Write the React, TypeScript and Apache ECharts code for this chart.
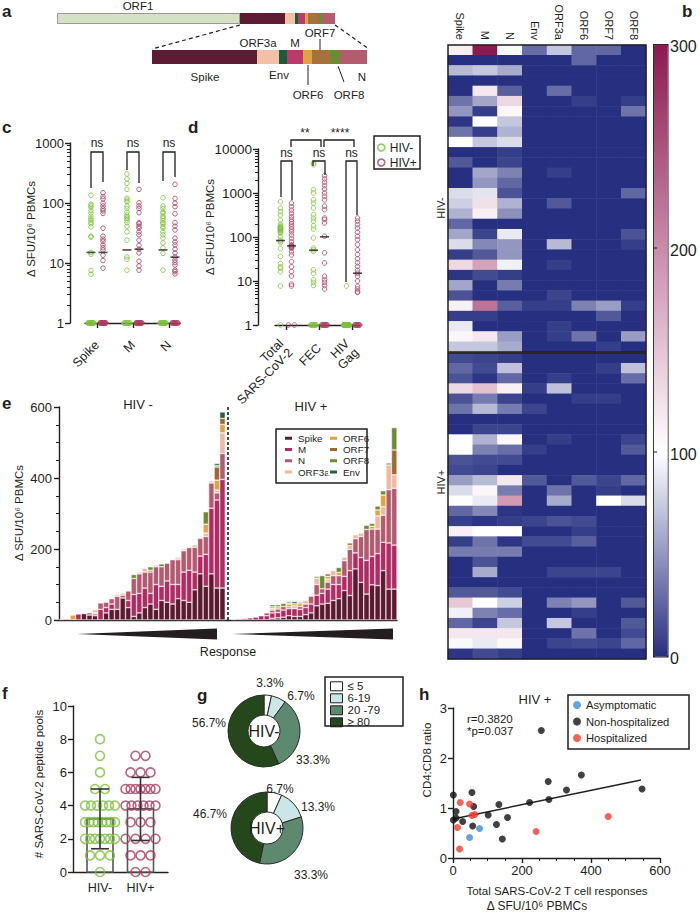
import React, { useEffect, useRef } from 'react';
import * as echarts from 'echarts';

const FONT = '"Liberation Sans", Arial, Helvetica, sans-serif';
const INK = '#231f20';
const GREEN = '#7cc13a';
const MAROON = '#a93b60';
const PAGE_W = 700;
const PAGE_H = 913;

// ---------- a: genome ----------
const genomeNames = ['ORF1', 'Spike', 'ORF3a', 'Env', 'M', 'ORF6', 'ORF7', 'ORF8', 'N'];
const genomeLengths = [183, 45, 10, 3, 7, 3, 10, 4, 13];
const detailNames = ['Spike', 'ORF3a', 'Env', 'M', 'ORF6', 'ORF7', 'ORF8', 'N'];
const detailLengths = [105, 22, 8, 16, 9, 18, 10, 27];
const geneColors: Record<string, string> = {
  ORF1: '#d6e1c4', Spike: '#5e1b34', ORF3a: '#f2c1a5', Env: '#1b5d3b', M: '#b93a6b',
  ORF6: '#e0a343', ORF7: '#a6713a', ORF8: '#6e8a34', N: '#b45b6e',
};

// ---------- b: heatmap ----------
const hmCols = ['Spike', 'M', 'N', 'Env', 'ORF3a', 'ORF6', 'ORF7', 'ORF8'];
const hmNeg = [
  [113, 300, 97, 30, 73, 27, 27, 0], [0, 0, 0, 0, 0, 27, 0, 0], [67, 73, 60, 0, 0, 0, 0, 0],
  [0, 0, 0, 0, 0, 0, 0, 0], [0, 120, 23, 0, 30, 0, 0, 0], [33, 57, 133, 0, 0, 7, 0, 7],
  [50, 7, 107, 0, 0, 0, 0, 33], [3, 100, 73, 0, 0, 0, 0, 0], [33, 7, 63, 0, 0, 0, 0, 0],
  [100, 73, 83, 0, 0, 0, 0, 0], [0, 0, 7, 0, 0, 0, 0, 0], [20, 0, 10, 0, 0, 0, 0, 0],
  [0, 57, 40, 0, 7, 0, 0, 0], [0, 50, 27, 0, 0, 0, 0, 0], [83, 87, 17, 0, 0, 0, 0, 27],
  [77, 127, 63, 0, 20, 0, 0, 0], [63, 113, 47, 0, 0, 0, 0, 0], [27, 0, 0, 0, 0, 0, 0, 0],
  [57, 10, 90, 0, 0, 0, 0, 17], [83, 43, 50, 0, 67, 0, 0, 7], [7, 20, 50, 0, 0, 0, 0, 0],
  [133, 180, 93, 0, 7, 0, 0, 0], [3, 13, 7, 0, 0, 0, 0, 0], [57, 0, 37, 0, 0, 0, 0, 0],
  [17, 0, 0, 0, 10, 0, 0, 0], [113, 220, 23, 7, 7, 40, 53, 7], [7, 7, 0, 0, 0, 0, 20, 0],
  [90, 0, 0, 0, 7, 0, 0, 0], [107, 120, 53, 0, 7, 33, 0, 53], [73, 73, 60, 0, 0, 0, 7, 0],
];
const hmPos = [
  [13, 10, 7, 0, 0, 0, 0, 0], [27, 13, 70, 0, 0, 0, 7, 70], [17, 3, 27, 0, 7, 0, 0, 30],
  [133, 153, 113, 7, 70, 0, 0, 0], [17, 37, 10, 0, 0, 7, 7, 0], [33, 67, 37, 10, 0, 0, 0, 0],
  [0, 0, 0, 0, 0, 0, 0, 0], [0, 10, 10, 0, 0, 0, 0, 0], [100, 63, 107, 0, 7, 0, 0, 10],
  [100, 40, 30, 7, 0, 0, 0, 20], [17, 13, 13, 0, 0, 0, 0, 0], [13, 10, 0, 0, 0, 0, 0, 0],
  [53, 67, 120, 20, 0, 20, 10, 27], [83, 107, 37, 0, 33, 0, 7, 0], [99, 90, 187, 0, 60, 0, 100, 83],
  [27, 43, 3, 0, 0, 0, 0, 0], [7, 3, 7, 10, 17, 13, 0, 0], [113, 100, 100, 0, 0, 7, 0, 0],
  [7, 33, 3, 13, 13, 23, 0, 0], [37, 37, 37, 0, 0, 0, 0, 0], [0, 17, 0, 0, 0, 0, 0, 0],
  [0, 60, 0, 0, 10, 10, 10, 0], [0, 0, 0, 0, 0, 0, 0, 0], [20, 20, 13, 0, 0, 0, 0, 0],
  [147, 100, 77, 0, 40, 50, 0, 20], [93, 40, 30, 0, 0, 7, 0, 0], [27, 10, 73, 0, 73, 0, 0, 20],
  [120, 120, 120, 0, 0, 33, 0, 13], [97, 90, 107, 0, 10, 13, 10, 27], [3, 13, 7, 0, 0, 0, 0, 0],
];
const colorbarTicks = [0, 100, 200, 300];

// ---------- c ----------
const cCats = ['Spike', 'M', 'N'];
const ones = (n: number) => Array(n).fill(1);
const cSpikeNeg = [135, 95, 90, 85, 75, 68, 60, 55, 52, 48, 45, 40, 28, 27, 15, 14, 7.5, 6.5, ...ones(12)];
const cSpikePos = [148, 128, 117, 99, 89, 80, 74, 67, 38, 28, 25, 23, 20, 18, 16.5, 13.5, 11, 8.2, ...ones(12)];
const cMNeg = [305, 251, 213, 169, 120, 112, 105, 89, 81, 70, 63, 59, 56, 52, 47, 41, 33, 24, 12.6, 11.5, 7.6, ...ones(9)];
const cMPos = [169, 101, 89, 81, 69, 47, 45, 41, 38, 33, 29.5, 24, 19.6, 17, 14.7, 10.7, 8.9, 7.6, ...ones(12)];
const cNNeg = [122, 89, 81, 71, 67, 60, 56, 51, 47, 45, 40.6, 38, 33, 29.5, 26, 21.5, 18, 14.5, 7.6, ...ones(11)];
const cNPos = [205, 119, 99, 87, 66, 47, 41, 35.5, 26, 22.4, 20, 17, 14.7, 12.6, 11.2, 10.2, 9.3, 7.6, 7.2, 6.6, ...ones(10)];
const cMedNeg = [15, 16.5, 16.5];
const cMedPos = [15, 17, 12.5];

// ---------- d ----------
const dCats = ['Total\nSARS-CoV-2', 'FEC', 'HIV\nGag'];
const dTotalNeg = [633, 447, 376, 316, 244, 197, 178, 170, 165, 160, 157, 155, 150, 144, 140, 132, 130, 121, 101, 85, 80, 75, 55, 36, 25, 21, 19.4, 16.3, 7.7, 1];
const dTotalPos = [587, 489, 409, 345, 288, 251, 223, 197, 171, 150, 132, 111, 93, 78, 66, 64, 62, 60, 58, 55, 46, 39, 27.5, 21, 16.3, 13, 8.5, 7.7, 1, 1];
const dFecNeg = [4800, 4400, 1190, 1000, 700, 590, 457, 322, 270, 230, 180, 152, 95, 56, 51, 47, 18, 15, 10.7, 9.3, 7.9, ...ones(9)];
const dFecPos = [2480, 2090, 1750, 1470, 1230, 1000, 840, 700, 500, 420, 270, 250, 209, 104, 43.6, 25.7, 12.8, 10.7, 9.3, 7.9, 6.6, ...ones(9)];
const dGagNeg = [7.7, ...ones(29)];
const dGagPos = [270, 230, 191, 160, 128, 104, 87, 67, 51, 40, 32, 26, 21.5, 17.5, 15, 12.8, 10, 7.6, 6.6, 5.7, 5.5, ...ones(9)];
const dMedNeg = [83, 50, 1];
const dMedPos = [63, 101, 15];

// ---------- e ----------
const eComponents = ['Spike', 'M', 'N', 'ORF3a', 'ORF6', 'ORF7', 'ORF8', 'Env'];
const eNeg = [
  [0, 2, 0, 0, 0, 0, 0, 0], [0, 3, 0, 0, 0, 0, 0, 0], [0, 0, 0, 0, 14, 0, 0, 0], [0, 17, 0, 0, 0, 0, 0, 0],
  [18, 0, 0, 0, 0, 0, 0, 0], [14, 6, 0, 0, 0, 0, 0, 0], [12, 5, 0, 5, 6, 0, 0, 0], [0, 30, 18, 0, 0, 0, 0, 0],
  [20, 15, 15, 0, 0, 0, 0, 0], [30, 15, 15, 0, 0, 0, 0, 0], [30, 0, 37, 5, 0, 0, 0, 0], [62, 0, 8, 6, 0, 0, 0, 0],
  [35, 20, 27, 0, 0, 0, 0, 0], [10, 62, 45, 0, 0, 0, 11, 0], [20, 55, 55, 5, 0, 0, 0, 0], [35, 55, 45, 10, 0, 0, 0, 0],
  [45, 30, 60, 0, 0, 5, 10, 0], [30, 70, 50, 5, 0, 0, 0, 0], [55, 40, 55, 0, 0, 0, 8, 0], [50, 60, 50, 0, 0, 0, 0, 0],
  [45, 55, 70, 0, 0, 0, 0, 0], [60, 40, 70, 0, 0, 3, 3, 0], [55, 80, 60, 5, 0, 0, 0, 0], [50, 90, 64, 0, 0, 0, 0, 0],
  [85, 50, 70, 7, 0, 0, 0, 0], [130, 50, 50, 0, 0, 0, 0, 0], [95, 90, 50, 10, 25, 0, 35, 0], [130, 185, 71, 6, 0, 0, 0, 0],
  [90, 248, 20, 8, 28, 37, 4, 6], [90, 306, 73, 58, 24, 17, 0, 18],
];
const ePos = [
  [0, 2, 0, 0, 0, 0, 0, 0], [0, 3, 0, 0, 0, 0, 0, 0], [0, 4, 0, 0, 0, 0, 0, 0], [0, 6, 0, 0, 0, 0, 0, 0],
  [0, 8, 0, 0, 0, 0, 0, 0], [0, 12, 0, 0, 0, 0, 0, 0], [0, 12, 8, 0, 0, 0, 0, 0], [5, 15, 8, 5, 5, 0, 0, 5],
  [6, 15, 10, 0, 6, 0, 6, 0], [8, 20, 10, 0, 0, 0, 9, 0], [12, 20, 5, 0, 8, 3, 0, 4], [10, 22, 0, 8, 6, 0, 0, 6],
  [10, 20, 8, 0, 8, 4, 0, 0], [15, 20, 10, 10, 0, 0, 0, 0], [20, 25, 22, 0, 0, 0, 0, 0], [40, 30, 30, 18, 0, 0, 5, 0],
  [45, 30, 13, 0, 0, 0, 37, 0], [47, 40, 20, 8, 8, 7, 0, 0], [55, 45, 25, 14, 0, 0, 0, 0], [60, 40, 25, 0, 9, 0, 14, 0],
  [83, 40, 44, 10, 0, 0, 0, 0], [69, 70, 60, 11, 0, 7, 0, 0], [144, 45, 40, 11, 0, 0, 0, 0], [106, 70, 59, 10, 0, 0, 0, 0],
  [73, 95, 87, 0, 0, 0, 12, 0], [99, 80, 77, 0, 8, 0, 8, 0], [97, 90, 69, 37, 17, 0, 11, 0], [139, 80, 76, 24, 33, 0, 12, 0],
  [87, 130, 150, 70, 0, 0, 0, 5], [87, 124, 160, 38, 0, 70, 63, 0],
];

// ---------- f ----------
const fCats = ['HIV-', 'HIV+'];
const fNegCounts = [1, 3, 7, 8, 6, 2, 1, 1, 1]; // number of donors responding to 0..8 pools
const fPosCounts = [2, 3, 4, 3, 6, 7, 3, 2]; // 0..7 pools
const fMean = [3.2, 3.8];
const fSD = [1.8, 1.9];

// ---------- g ----------
const gBins = ['≤ 5', '6-19', '20 -79', '≥ 80'];
const gColors = ['#ffffff', '#c9e7e5', '#5d8a6f', '#24481c'];
const gNeg = [1, 2, 10, 17];
const gPos = [2, 4, 10, 14];

// ---------- h ----------
const hAsym = [[48, 0.41], [77, 0.59]];
const hNonHosp = [
  [1, 1.26], [9, 0.93], [1, 0.76], [9, 0.8], [28, 0.73], [55, 1.31], [60, 1.03], [57, 0.64], [102, 0.86], [126, 0.67],
  [133, 1.07], [143, 0.38], [158, 0.81], [222, 1.11], [256, 2.55], [276, 1.53], [278, 1.17], [329, 1.36], [372, 1.66], [548, 1.38],
];
const hHosp = [[21, 1.11], [48, 1.08], [55, 0.85], [63, 0.87], [13, 0.61], [19, 0.18], [241, 0.53], [450, 0.83]];
const hFit = [[0, 0.78], [545, 1.56]];
const hStats = ['r=0.3820', '*p=0.037'];

// ---------- helpers ----------
const txt = (x: number, y: number, text: string, o: any = {}) => ({
  type: 'text', x, y, rotation: o.rot || 0, z: 50, silent: true,
  style: {
    text, fill: o.fill || INK, fontSize: o.fs || 12, fontFamily: FONT, fontWeight: o.fw || 'normal',
    align: o.align || 'center', verticalAlign: o.va || 'middle',
  },
});
const ln = (x1: number, y1: number, x2: number, y2: number, w = 1.2, dash?: number[]) => ({
  type: 'line', z: 50, silent: true, shape: { x1, y1, x2, y2 }, style: { stroke: INK, lineWidth: w, lineDash: dash },
});
const pl = (points: number[][], w = 1.3) => ({
  type: 'polyline', z: 50, silent: true, shape: { points }, style: { stroke: INK, fill: null, lineWidth: w },
});
const box = (x: number, y: number, w: number, h: number) => ({
  type: 'rect', z: 40, silent: true, shape: { x, y, width: w, height: h }, style: { stroke: INK, fill: null, lineWidth: 1.5 },
});
const letter = (x: number, y: number, t: string) => txt(x, y, t, { fs: 17, fw: 'bold', align: 'left' });
const SFU = 'Δ SFU/10⁶ PBMCs';
const axisLineStyle = { color: INK, width: 1.4 };
const lbl = (fs = 13, extra: any = {}) => ({ fontSize: fs, color: INK, fontFamily: FONT, ...extra });

const logMinor = (decades: number) => {
  const r: number[] = [];
  for (let d = 0; d < decades; d++) for (let m = 2; m <= 9; m++) r.push(d + Math.log10(m));
  return r;
};

// spread tied points at the floor value (1) into a small blob
const groupPts = (values: number[], x: number, spread: number) => {
  const n1 = values.filter((v) => v <= 1).length;
  let k = 0;
  return values.map((v) => {
    if (v <= 1 && n1 > 1) {
      const o = (k++ / (n1 - 1) - 0.5) * spread;
      return [x + o, v];
    }
    return [x, v];
  });
};

const hollow = (name: string, color: string, data: number[][], size = 4.6, bw = 1) => ({
  type: 'scatter', name, data, symbol: 'circle', symbolSize: size, silent: true,
  itemStyle: { color: 'rgba(255,255,255,0)', borderColor: color, borderWidth: bw },
  emphasis: { disabled: true }, z: 3,
});

const logAxes = (decades: number, offset: number, fs: number) => [
  { type: 'log', min: 1, max: Math.pow(10, decades), show: false, position: 'left' },
  {
    type: 'value', min: 0, max: decades, interval: 1, offset, position: 'left',
    axisLine: { show: true, lineStyle: axisLineStyle },
    axisTick: { show: true, length: 5, lineStyle: axisLineStyle },
    axisLabel: { ...lbl(fs), margin: 6, formatter: (v: number) => String(Math.round(Math.pow(10, v))) },
    splitLine: { show: false },
  },
  {
    type: 'value', min: 0, max: decades, offset, position: 'left',
    axisLine: { show: false }, axisLabel: { show: false }, splitLine: { show: false },
    axisTick: { show: true, customValues: logMinor(decades), length: 3, lineStyle: { color: INK, width: 1 } },
  },
];

// ---------- options ----------
const optA = {
  animation: false,
  grid: [
    { left: 57, top: 13, width: 278, height: 11 },
    { left: 152, top: 50, width: 215, height: 14 },
  ],
  xAxis: [
    { type: 'value', gridIndex: 0, min: 0, max: genomeLengths.reduce((a, b) => a + b, 0), show: false },
    { type: 'value', gridIndex: 1, min: 0, max: detailLengths.reduce((a, b) => a + b, 0), show: false },
  ],
  yAxis: [
    { type: 'category', gridIndex: 0, data: ['genome'], show: false },
    { type: 'category', gridIndex: 1, data: ['detail'], show: false },
  ],
  series: [
    ...genomeNames.map((n, i) => ({
      type: 'bar', name: 'g' + n, stack: 'genome', xAxisIndex: 0, yAxisIndex: 0, barWidth: '100%', silent: true,
      data: [genomeLengths[i]],
      itemStyle: { color: geneColors[n], borderColor: i === 0 ? '#9a9a9a' : geneColors[n], borderWidth: i === 0 ? 1 : 0 },
    })),
    ...detailNames.map((n, i) => ({
      type: 'bar', name: 'd' + n, stack: 'detail', xAxisIndex: 1, yAxisIndex: 1, barWidth: '100%', silent: true,
      data: [detailLengths[i]], itemStyle: { color: geneColors[n] },
    })),
  ],
  graphic: [
    letter(2, 11, 'a'),
    txt(138, 6, 'ORF1', { fs: 11.5 }),
    ln(240, 25, 152, 49, 1.2, [4, 3]),
    ln(335, 25, 369, 49, 1.2, [4, 3]),
    txt(258, 43, 'ORF3a', { fs: 11.5 }), txt(295, 43, 'M', { fs: 11.5 }), txt(320, 33, 'ORF7', { fs: 11.5 }), ln(320, 39, 320, 50, 1),
    txt(205, 77, 'Spike', { fs: 11.5 }), txt(279, 75, 'Env', { fs: 11.5 }), txt(308, 95, 'ORF6', { fs: 11.5 }), ln(308, 65, 308, 85, 1),
    txt(349, 95, 'ORF8', { fs: 11.5 }), ln(338, 66, 344, 82, 1), txt(362, 77, 'N', { fs: 11.5 }),
  ],
};

const heatCells = (rows: number[][]) => rows.flatMap((r, ri) => r.map((v, ci) => [ci, ri, v]));
const rowIdx = Array.from({ length: 30 }, (_, i) => String(i));
const cbY = (v: number) => 656 - (v / 300) * 612;
const optB = {
  animation: false,
  grid: [
    { left: 448, top: 45, width: 198, height: 307 },
    { left: 448, top: 353, width: 198, height: 306 },
  ],
  xAxis: [
    {
      type: 'category', gridIndex: 0, data: hmCols, position: 'top',
      axisLine: { show: false }, axisTick: { show: false }, axisLabel: { ...lbl(11), rotate: 90, margin: 5 },
    },
    { type: 'category', gridIndex: 1, data: hmCols, show: false },
  ],
  yAxis: [
    { type: 'category', gridIndex: 0, data: rowIdx, inverse: true, show: false },
    { type: 'category', gridIndex: 1, data: rowIdx, inverse: true, show: false },
  ],
  visualMap: {
    type: 'continuous', min: 0, max: 300, seriesIndex: [0, 1], calculable: false, left: 653, top: 44,
    itemWidth: 14, itemHeight: 612, padding: 0, borderColor: INK, borderWidth: 1.5,
    inRange: { color: ['#262f80', '#ffffff', '#c98ca9', '#8c1a50'] },
  },
  series: [
    { type: 'heatmap', xAxisIndex: 0, yAxisIndex: 0, data: heatCells(hmNeg), silent: true, emphasis: { disabled: true } },
    { type: 'heatmap', xAxisIndex: 1, yAxisIndex: 1, data: heatCells(hmPos), silent: true, emphasis: { disabled: true } },
  ],
  graphic: [
    letter(682, 11, 'b'),
    box(448, 45, 198, 307), box(448, 353, 198, 306),
    txt(441, 208, 'HIV-', { rot: Math.PI / 2, fs: 11 }),
    txt(441, 482, 'HIV+', { rot: Math.PI / 2, fs: 11 }),
    ...colorbarTicks.map((v) => txt(670, cbY(v) + 2, String(v), { fs: 16, align: 'left' })),
    ...colorbarTicks.filter((v) => v > 0 && v < 300).map((v) => ln(653, cbY(v), 657, cbY(v), 1)),
  ],
};

const OFF = 0.167;
const optC = {
  animation: false,
  grid: { left: 85, top: 143, width: 95, height: 180 },
  xAxis: {
    type: 'value', min: -0.333, max: 2.306, offset: 15, splitLine: { show: false },
    axisLine: { lineStyle: axisLineStyle },
    axisTick: { customValues: [0, 1, 2], length: 5, lineStyle: axisLineStyle },
    axisLabel: { customValues: [0, 1, 2], formatter: (v: number) => cCats[Math.round(v)], rotate: 45, margin: 5, ...lbl(12.5) },
  },
  yAxis: logAxes(3, 15, 13),
  series: [
    hollow('HIV-', GREEN, [
      ...groupPts(cSpikeNeg, 0 - OFF, 0.17), ...groupPts(cMNeg, 1 - OFF, 0.17), ...groupPts(cNNeg, 2 - OFF, 0.17),
    ]),
    hollow('HIV+', MAROON, [
      ...groupPts(cSpikePos, 0 + OFF, 0.17), ...groupPts(cMPos, 1 + OFF, 0.17), ...groupPts(cNPos, 2 + OFF, 0.17),
    ]),
    {
      type: 'scatter', symbol: 'rect', symbolSize: [9, 1.6], silent: true, z: 4, itemStyle: { color: INK },
      data: [...cMedNeg.map((m, i) => [i - OFF, m]), ...cMedPos.map((m, i) => [i + OFF, m])],
    },
  ],
  graphic: [
    letter(2, 127, 'c'),
    txt(31, 229, SFU, { rot: Math.PI / 2, fs: 11.5 }),
    ...[[91, 103, 188, 182], [127, 139, 170, 183], [163, 175, 181, 177]].flatMap(([a, b, la, lb]) => [
      pl([[a, la], [a, 152], [b, 152], [b, lb]]),
      txt((a + b) / 2, 143, 'ns'),
    ]),
  ],
};

const OFFD = 0.167;
const optD = {
  animation: false,
  grid: { left: 275, top: 149, width: 85, height: 176 },
  xAxis: {
    type: 'value', min: -0.333, max: 2.242, offset: 16, splitLine: { show: false },
    axisLine: { lineStyle: axisLineStyle },
    axisTick: { customValues: [0, 1, 2], length: 5, lineStyle: axisLineStyle },
    axisLabel: { customValues: [0, 1, 2], formatter: (v: number) => dCats[Math.round(v)], rotate: 45, margin: 5, ...lbl(12.5), lineHeight: 13 },
  },
  yAxis: logAxes(4, 17, 13.5),
  legend: {
    left: 377, top: 141.5, padding: 0, orient: 'vertical', itemWidth: 7, itemHeight: 7, itemGap: 3, selectedMode: false,
    textStyle: { ...lbl(12), lineHeight: 11 },
    data: [
      { name: 'HIV-', icon: 'circle', itemStyle: { color: '#fff', borderColor: GREEN, borderWidth: 1.6 } },
      { name: 'HIV+', icon: 'circle', itemStyle: { color: '#fff', borderColor: MAROON, borderWidth: 1.6 } },
    ],
  },
  series: [
    hollow('HIV-', GREEN, [
      ...groupPts(dTotalNeg, 0 - OFFD, 0.18), ...groupPts(dFecNeg, 1 - OFFD, 0.18), ...groupPts(dGagNeg, 2 - OFFD, 0.18),
    ]),
    hollow('HIV+', MAROON, [
      ...groupPts(dTotalPos, 0 + OFFD, 0.18), ...groupPts(dFecPos, 1 + OFFD, 0.18), ...groupPts(dGagPos, 2 + OFFD, 0.18),
    ]),
    {
      type: 'scatter', symbol: 'rect', symbolSize: [9, 1.6], silent: true, z: 4, itemStyle: { color: INK },
      data: [...dMedNeg.map((m, i) => [i - OFFD, m]).filter((p) => p[1] > 1), ...dMedPos.map((m, i) => [i + OFFD, m])],
    },
  ],
  graphic: [
    letter(188, 127, 'd'),
    txt(210, 227, SFU, { rot: Math.PI / 2, fs: 11.5 }),
    box(374, 136, 46, 33),
    pl([[281, 197], [281, 161], [292, 161], [292, 200]]), txt(286.5, 153, 'ns'),
    pl([[313, 166], [313, 161], [325, 161], [325, 175]]), txt(319, 153, 'ns'),
    pl([[346, 282], [346, 161], [357, 161], [357, 215]]), txt(351.5, 153, 'ns'),
    pl([[291, 147], [291, 140], [321, 140], [321, 147]]), txt(305, 133, '**'),
    pl([[324, 147], [324, 140], [354, 140], [354, 147]]), txt(340, 133, '****'),
  ],
};

const eCats = Array.from({ length: 61 }, (_, i) => String(i));
const eColors = ['#5c1a30', '#b22a62', '#b35a70', '#f1b89e', '#e3a33a', '#a2672e', '#6f8b32', '#1d6642'];
const eLegend = (left: number, names: string[]) => ({
  left, top: 432.5, padding: 0, orient: 'vertical', icon: 'rect', itemWidth: 9, itemHeight: 5, itemGap: 0,
  selectedMode: false, textStyle: { ...lbl(9.8), lineHeight: 11.3 }, data: names,
});
const optE = {
  animation: false,
  grid: { left: 59, top: 407, width: 338, height: 213 },
  xAxis: {
    type: 'category', data: eCats, axisLine: { lineStyle: axisLineStyle }, axisTick: { show: false }, axisLabel: { show: false },
  },
  yAxis: {
    type: 'value', min: 0, max: 600, interval: 200, splitLine: { show: false },
    axisLine: { show: true, lineStyle: axisLineStyle }, axisTick: { show: true, length: 5, lineStyle: axisLineStyle },
    minorTick: { show: true, splitNumber: 4, length: 3, lineStyle: { color: INK, width: 1 } },
    axisLabel: { ...lbl(13), margin: 7 },
  },
  legend: [eLegend(283, eComponents.slice(0, 4)), eLegend(328, eComponents.slice(4))],
  series: eComponents.map((name, j) => ({
    type: 'bar', name, stack: 'resp', barCategoryGap: '0%', silent: true,
    itemStyle: { color: eColors[j], borderColor: '#ffffff', borderWidth: 0.5 },
    data: [...eNeg.map((r) => (r[j] > 0 ? r[j] : '-')), '-', ...ePos.map((r) => (r[j] > 0 ? r[j] : '-'))],
    markLine: j === 0 ? {
      silent: true, symbol: ['none', 'none'], label: { show: false },
      lineStyle: { type: [3, 2], color: INK, width: 1.6 }, data: [{ xAxis: '30' }],
    } : undefined,
  })),
  graphic: [
    letter(2, 403, 'e'),
    txt(19, 513, SFU, { rot: Math.PI / 2, fs: 11.5 }),
    txt(138, 404, 'HIV -', { fs: 13 }),
    txt(311, 406, 'HIV +', { fs: 13 }),
    box(276, 429, 91, 54),
    { type: 'polygon', silent: true, shape: { points: [[77, 634], [217, 628.5], [217, 639.5]] }, style: { fill: INK } },
    { type: 'polygon', silent: true, shape: { points: [[232, 634], [393, 628.5], [393, 639.5]] }, style: { fill: INK } },
    txt(228, 652, 'Response', { fs: 12.5 }),
  ],
};

const swarm = (counts: number[], x: number, unitPx: number) => {
  const out: number[][] = [];
  counts.forEach((n, v) => {
    const step = n > 1 ? Math.min(10, 30 / (n - 1)) : 0;
    for (let k = 0; k < n; k++) out.push([x + ((k - (n - 1) / 2) * step) / unitPx, v]);
  });
  return out;
};
const optF = {
  animation: false,
  grid: { left: 73, top: 706, width: 95, height: 166 },
  xAxis: {
    type: 'value', min: 0.3333, max: 2.679, splitLine: { show: false },
    axisLine: { lineStyle: axisLineStyle }, axisTick: { show: false },
    axisLabel: { customValues: [1, 2], formatter: (v: number) => fCats[Math.round(v) - 1], margin: 9, ...lbl(12.5) },
  },
  yAxis: {
    type: 'value', min: 0, max: 10, interval: 2, splitLine: { show: false },
    axisLine: { show: true, lineStyle: axisLineStyle }, axisTick: { show: true, length: 5, lineStyle: axisLineStyle },
    axisLabel: { ...lbl(13), margin: 6 },
  },
  series: [
    {
      type: 'custom', silent: true, z: 1,
      data: fMean.map((m, i) => [i + 1, m]),
      renderItem: (params: any, api: any) => {
        const x = api.value(0), m = api.value(1);
        const p0 = api.coord([x, 0]), p1 = api.coord([x, m]);
        return {
          type: 'rect', shape: { x: p0[0] - 13, y: p1[1], width: 26, height: p0[1] - p1[1] },
          style: { fill: '#ffffff', stroke: '#555555', lineWidth: 1.6 },
        };
      },
    },
    hollow('HIV-', GREEN, swarm(fNegCounts, 1, 40.5), 9, 1.6),
    hollow('HIV+', MAROON, swarm(fPosCounts, 2, 40.5), 9, 1.6),
    {
      type: 'custom', silent: true, z: 5,
      data: fMean.map((m, i) => [i + 1, m, fSD[i]]),
      renderItem: (params: any, api: any) => {
        const x = api.value(0), m = api.value(1), sd = api.value(2);
        const t = api.coord([x, m + sd]), b = api.coord([x, m - sd]);
        const st = { stroke: '#333333', lineWidth: 1.6 };
        return {
          type: 'group', children: [
            { type: 'line', shape: { x1: t[0], y1: t[1], x2: b[0], y2: b[1] }, style: st },
            { type: 'line', shape: { x1: t[0] - 9, y1: t[1], x2: t[0] + 9, y2: t[1] }, style: st },
            { type: 'line', shape: { x1: b[0] - 9, y1: b[1], x2: b[0] + 9, y2: b[1] }, style: st },
          ],
        };
      },
    },
  ],
  graphic: [
    letter(2, 693, 'f'),
    txt(39, 784, '# SARS-CoV-2 peptide pools', { rot: Math.PI / 2, fs: 11.5 }),
  ],
};

const pct = (c: number, arr: number[]) => `${(Math.round((c / arr.reduce((a, b) => a + b, 0)) * 1000) / 10).toFixed(1)}%`;
const pieSeries = (values: number[], center: number[]) => ({
  type: 'pie', center, radius: [16, 36], startAngle: 90, clockwise: true, silent: true,
  label: { show: false }, labelLine: { show: false }, emphasis: { disabled: true },
  itemStyle: { borderColor: '#2a2a2a', borderWidth: 1 },
  data: gBins.map((name, i) => ({ name, value: values[i], itemStyle: { color: gColors[i] } })),
});
const optG = {
  animation: false,
  legend: {
    left: 330, top: 680.3, padding: 0, orient: 'vertical', icon: 'rect', itemWidth: 12, itemHeight: 9, itemGap: 0,
    selectedMode: false, textStyle: { ...lbl(11.5), lineHeight: 11.3 },
    data: gBins.map((name) => ({ name, itemStyle: { borderColor: INK, borderWidth: 1 } })),
  },
  series: [pieSeries(gNeg, [264, 731]), pieSeries(gPos, [267, 828])],
  graphic: [
    letter(197, 695, 'g'),
    box(325, 677, 78, 49),
    txt(264, 731, 'HIV-', { fs: 16 }),
    txt(267, 828, 'HIV+', { fs: 16 }),
    txt(270, 683, pct(gNeg[0], gNeg)), txt(301, 696, pct(gNeg[1], gNeg)),
    txt(313, 760, pct(gNeg[2], gNeg)), txt(209, 723, pct(gNeg[3], gNeg)),
    txt(280, 789, pct(gPos[0], gPos)), txt(318, 807, pct(gPos[1], gPos)),
    txt(311, 875, pct(gPos[2], gPos)), txt(210, 814, pct(gPos[3], gPos)),
  ],
};

const dot = (name: string, color: string, data: number[][]) => ({
  type: 'scatter', name, data, symbol: 'circle', symbolSize: 7, silent: true, z: 4,
  itemStyle: { color }, emphasis: { disabled: true },
});
const optH = {
  animation: false,
  grid: { left: 453, top: 708, width: 207, height: 150 },
  xAxis: {
    type: 'value', min: 0, max: 600, interval: 200, splitLine: { show: false },
    axisLine: { lineStyle: axisLineStyle }, axisTick: { length: 5, lineStyle: axisLineStyle },
    minorTick: { show: true, splitNumber: 4, length: 3, lineStyle: { color: INK, width: 1 } },
    axisLabel: { ...lbl(13), margin: 6 },
  },
  yAxis: {
    type: 'value', min: 0, max: 3, interval: 1, splitLine: { show: false },
    axisLine: { show: true, lineStyle: axisLineStyle }, axisTick: { show: true, length: 5, lineStyle: axisLineStyle },
    axisLabel: { ...lbl(13), margin: 6 },
  },
  legend: {
    left: 573, top: 698.75, padding: 0, orient: 'vertical', icon: 'circle', itemWidth: 8, itemHeight: 8, itemGap: 4,
    selectedMode: false, textStyle: { ...lbl(11.2), lineHeight: 12.5 },
    data: ['Asymptomatic', 'Non-hospitalized', 'Hospitalized'],
  },
  series: [
    { type: 'line', data: hFit, symbol: 'none', silent: true, lineStyle: { color: INK, width: 1.5 }, z: 2 },
    dot('Asymptomatic', '#3b8fd1', hAsym),
    dot('Non-hospitalized', '#111111', hNonHosp),
    dot('Hospitalized', '#f03c2c', hHosp),
  ],
  graphic: [
    letter(419, 694, 'h'),
    box(568, 695, 121, 54),
    txt(535, 699, 'HIV +', { fs: 13 }),
    txt(467, 719, hStats[0], { align: 'left', fs: 11.5 }),
    txt(467, 731, hStats[1], { align: 'left', fs: 11.5 }),
    txt(427, 760, 'CD4:CD8 ratio', { rot: Math.PI / 2, fs: 11.5 }),
    txt(557, 891, 'Total SARS-CoV-2 T cell responses', { fs: 11.5 }),
    txt(537, 906, SFU, { fs: 12 }),
  ],
};

function Chart({ option }: { option: any }) {
  const ref = useRef<HTMLDivElement>(null);
  useEffect(() => {
    if (!ref.current) return;
    const chart = echarts.init(ref.current, null, { renderer: 'svg' });
    chart.setOption(option);
    return () => chart.dispose();
  }, [option]);
  return <div ref={ref} style={{ position: 'absolute', left: 0, top: 0, width: PAGE_W, height: PAGE_H }} />;
}

export default function App() {
  return (
    <div style={{ position: 'absolute', left: 0, top: 0, width: PAGE_W, height: PAGE_H, background: '#fff', overflow: 'hidden' }}>
      {[optA, optB, optC, optD, optE, optF, optG, optH].map((o, i) => (
        <Chart key={i} option={o} />
      ))}
    </div>
  );
}
